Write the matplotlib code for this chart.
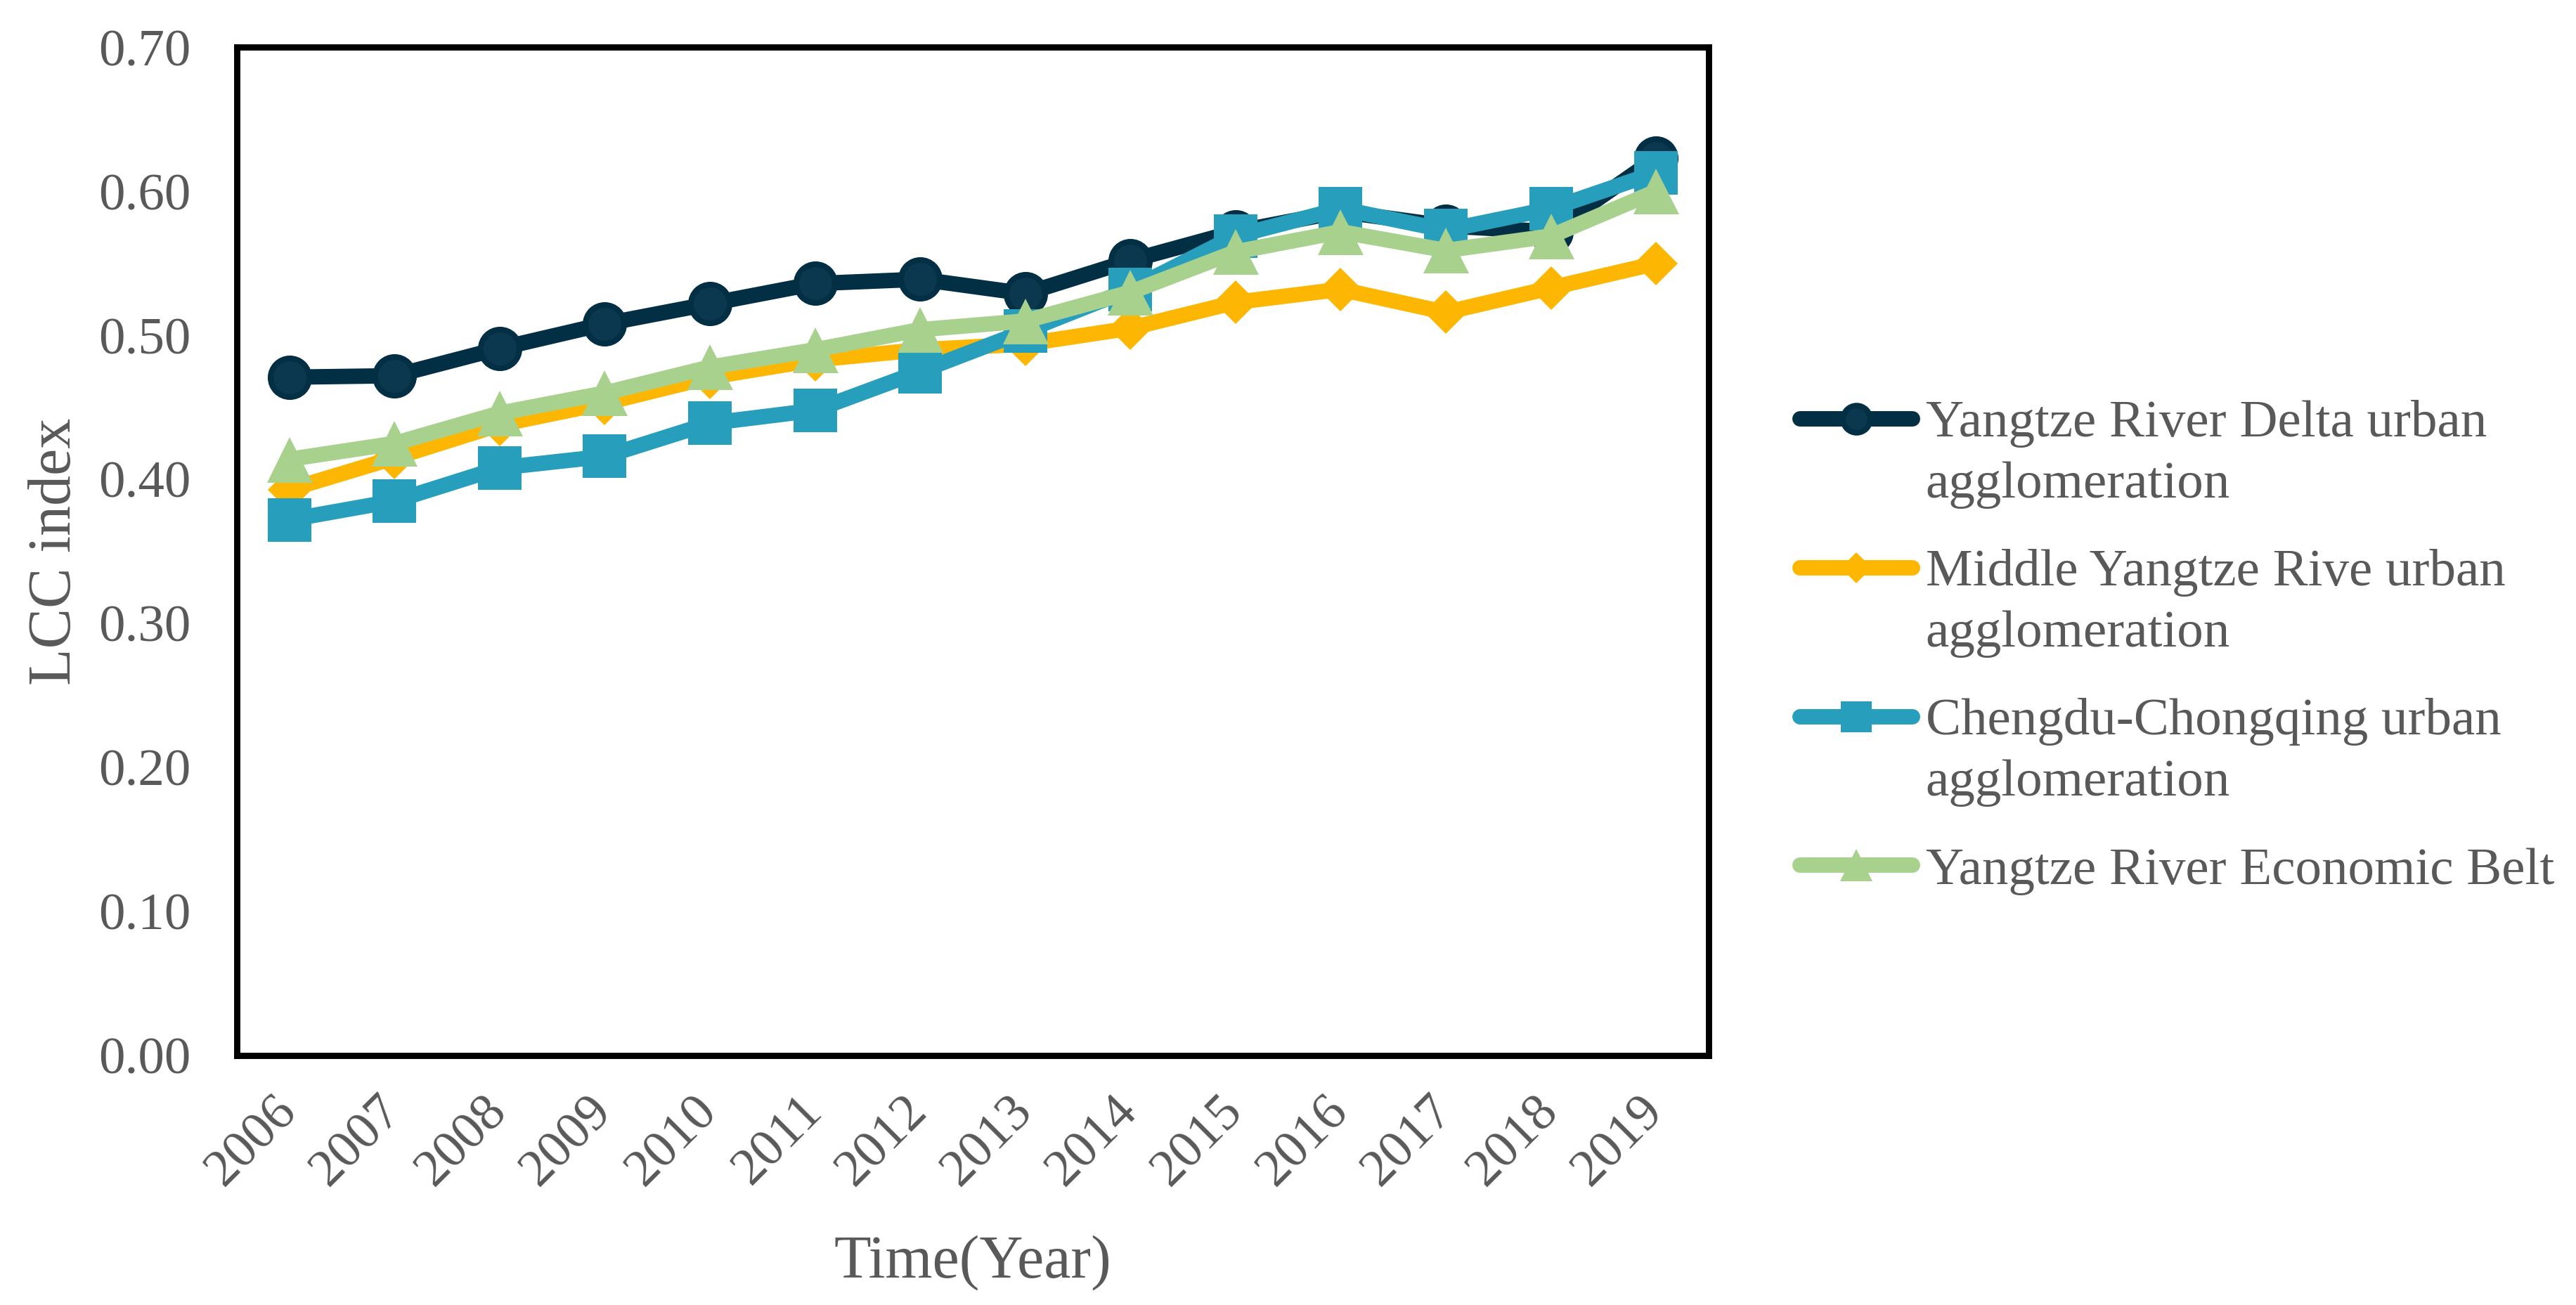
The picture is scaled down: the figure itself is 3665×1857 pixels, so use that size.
import matplotlib
matplotlib.use('Agg')
import matplotlib.pyplot as plt
from matplotlib.legend_handler import HandlerLine2D
from matplotlib.ticker import FormatStrFormatter

# values
years = ['2006', '2007', '2008', '2009', '2010', '2011', '2012',
         '2013', '2014', '2015', '2016', '2017', '2018', '2019']
yrd = [0.471, 0.472, 0.491, 0.508, 0.522, 0.536, 0.539,
       0.529, 0.552, 0.572, 0.586, 0.576, 0.572, 0.623]
middle = [0.393, 0.415, 0.438, 0.453, 0.471, 0.483, 0.490,
          0.494, 0.505, 0.523, 0.532, 0.516, 0.533, 0.550]
chengdu = [0.372, 0.385, 0.408, 0.416, 0.439, 0.448, 0.475,
           0.503, 0.532, 0.569, 0.588, 0.573, 0.588, 0.613]
belt = [0.414, 0.425, 0.446, 0.460, 0.478, 0.490, 0.504,
        0.510, 0.530, 0.558, 0.572, 0.559, 0.569, 0.600]

labels = ['Yangtze River Delta urban\nagglomeration',
          'Middle Yangtze Rive urban\nagglomeration',
          'Chengdu-Chongqing urban\nagglomeration',
          'Yangtze River Economic Belt']

grey = '#595959'
fs = 27

plt.rcParams['font.family'] = ['Liberation Serif', 'DejaVu Serif']


class RaisedHandler(HandlerLine2D):
    # put the legend handle next to the first line of a two-line label
    def __init__(self, raise_pt=0, **kw):
        super().__init__(**kw)
        self.raise_pt = raise_pt

    def create_artists(self, legend, orig_handle, xdescent, ydescent,
                       width, height, fontsize, trans):
        arts = super().create_artists(legend, orig_handle, xdescent, ydescent,
                                      width, height, fontsize, trans)
        for a in arts:
            a.set_ydata([y + self.raise_pt for y in a.get_ydata()])
        return arts


fig = plt.figure(figsize=(18.33, 9.285), dpi=200)
ax = fig.add_axes([0.0919, 0.1912, 0.6631 - 0.0919, 0.9637 - 0.1912])

x = list(range(len(years)))
lw = 7.9
common = dict(linewidth=lw, solid_joinstyle='round', solid_capstyle='round')

l1, = ax.plot(x, yrd, color='#032F45', marker='o', markersize=19.8,
              markerfacecolor='#0B384F', markeredgecolor='#032F45',
              markeredgewidth=2.9, zorder=3, **common)
l2, = ax.plot(x, middle, color='#FDB702', marker='D', markersize=16,
              markerfacecolor='#FDB702', markeredgewidth=0, zorder=4, **common)
l3, = ax.plot(x, chengdu, color='#279FBC', marker='s', markersize=22.3,
              markerfacecolor='#279FBC', markeredgewidth=0, zorder=5, **common)
l4, = ax.plot(x, belt, color='#A9D18E', marker='^', markersize=23.4,
              markerfacecolor='#A9D18E', markeredgewidth=0, zorder=6, **common)

ax.set_xlim(-0.5, len(years) - 0.5)
ax.set_ylim(0, 0.70)
ax.set_yticks([0, 0.1, 0.2, 0.3, 0.4, 0.5, 0.6, 0.7])
ax.yaxis.set_major_formatter(FormatStrFormatter('%.2f'))
ax.set_xticks(x)
ax.set_xticklabels(years, rotation=45, ha='right', va='center',
                   rotation_mode='anchor')

ax.tick_params(axis='both', length=0, labelsize=fs, labelcolor=grey)
ax.tick_params(axis='y', pad=23.4)
ax.tick_params(axis='x', pad=25)

for s in ax.spines.values():
    s.set_linewidth(3.2)
    s.set_color('black')

ax.set_xlabel('Time(Year)', fontsize=31, color=grey)
ax.set_ylabel('LCC index', fontsize=31, color=grey)
ax.xaxis.set_label_coords(0.5, -0.1778)
ax.yaxis.set_label_coords(-0.104, 0.5)

up = 0.668 * fs
leg = fig.legend([l1, l2, l3, l4], labels, loc='upper left',
                 bbox_to_anchor=(0.6986, 0.6936), frameon=False,
                 fontsize=fs, labelcolor=grey, borderpad=0, borderaxespad=0,
                 handlelength=2.13, handletextpad=0.25, labelspacing=0.76,
                 markerscale=0.7,
                 handler_map={l1: RaisedHandler(up), l2: RaisedHandler(up),
                              l3: RaisedHandler(up), l4: RaisedHandler(0)})
for t in leg.get_texts():
    t.set_linespacing(1.38)

fig.savefig('out.png', dpi=200)
